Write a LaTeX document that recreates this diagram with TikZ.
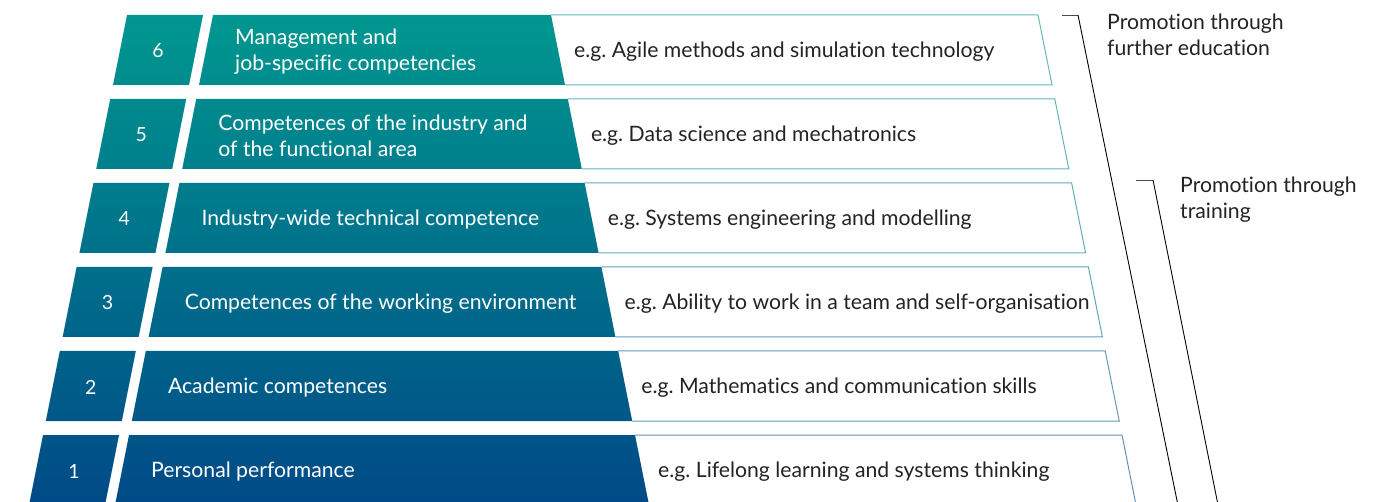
\documentclass[tikz,border=0pt]{standalone}
\usepackage{fontspec}
\setmainfont{Lato}[Ligatures={NoCommon}]
\usepackage{tikz}
\frenchspacing

\definecolor{pyrteal}{RGB}{0,151,143}
\definecolor{pyrnavy}{RGB}{0,74,135}
\definecolor{textdark}{RGB}{35,35,35}

\begin{document}
\begin{tikzpicture}[x=1pt, y=-1pt,
	numtext/.style={text=white, inner sep=0pt, font=\fontsize{19.5}{26}\selectfont},
	labtext/.style={text=white, inner sep=0pt, anchor=west, align=left, font=\fontsize{21.2}{26}\selectfont},
	extext/.style={text=textdark, inner sep=0pt, anchor=west, font=\fontsize{21.2}{26}\selectfont},
	promtext/.style={text=textdark, inner sep=0pt, anchor=west, align=left, font=\fontsize{21.2}{26}\selectfont},
	bracket/.style={draw=black, line width=0.9pt}]
		
		\useasboundingbox (0,0) rectangle (1381,502);
		\clip (0,0) rectangle (1381,502);
		
		% the six levels, 6 on top
		\foreach \n/\lab/\ex in {
			6/{Management and\\job-specific competencies}/{e.g. Agile methods and simulation technology},
			5/{Competences of the industry and\\of the functional area}/{e.g. Data science and mechatronics},
			4/{Industry-wide technical competence}/{e.g. Systems engineering and modelling},
			3/{Competences of the working environment}/{e.g. Ability to work in a team and self-organisation},
			2/{Academic competences}/{e.g. Mathematics and communication skills},
			1/{Personal performance}/{e.g. Lifelong learning and systems thinking}}{
			\pgfmathsetmacro\yt{15+(6-\n)*84}
			\pgfmathsetmacro\yb{\yt+70}
			\pgfmathsetmacro\ym{\yt+35}
			\pgfmathsetmacro\sh{0.2*(\yt-15)}
			\pgfmathsetmacro\pt{(\yt-15)/490*100}
			\pgfmathsetmacro\pb{(\yb-15)/490*100}
			\pgfmathsetmacro\pm{(\ym-15)/490*100}
			\colorlet{rowtop}{pyrnavy!\pt!pyrteal}
			\colorlet{rowbot}{pyrnavy!\pb!pyrteal}
			\colorlet{rowmid}{pyrnavy!\pm!pyrteal}
			\colorlet{rowline}{rowmid!62!white}
			
			\shade[top color=rowtop, bottom color=rowbot]
			({127-\sh},\yt) -- ({203-\sh},\yt) -- ({189-\sh},\yb) -- ({113-\sh},\yb) -- cycle;
			\shade[top color=rowtop, bottom color=rowbot]
			({213-\sh},\yt) -- ({551+\sh},\yt) -- ({565+\sh},\yb) -- ({199-\sh},\yb) -- cycle;
			\draw[rowline, line width=1pt]
			({551+\sh},\yt) -- ({1038+\sh},\yt) -- ({1052+\sh},\yb) -- ({565+\sh},\yb);
			
			\node[numtext] (num\n) at ({158-\sh},{\ym+1}) {\n};
			\node[labtext] (lab\n) at ({235-\sh},{\ym+1.5}) {\lab};
			\node[extext] (ex\n) at ({574+\sh},{\ym+1.5}) {\ex};
		}
		
		\node[promtext] (edu) at (1107,34.5) {Promotion through\\further education};
		\node[promtext] (train) at (1180,199.5) {Promotion through\\training};
		
		\coordinate (edu0) at (1062,15);
		\coordinate (edu1) at (1078,15);
		\coordinate (edu2) at (1183,530);
		\coordinate (train0) at (1136,180);
		\coordinate (train1) at (1153,180);
		\coordinate (train2) at (1223,530);
		
		\draw[bracket, draw=black!70] (edu0) -- (edu1);
		\draw[bracket] (edu1) -- (edu2);
		\draw[bracket, draw=black!70] (train0) -- (train1);
		\draw[bracket] (train1) -- (train2);
		\end{tikzpicture}
\end{document}
